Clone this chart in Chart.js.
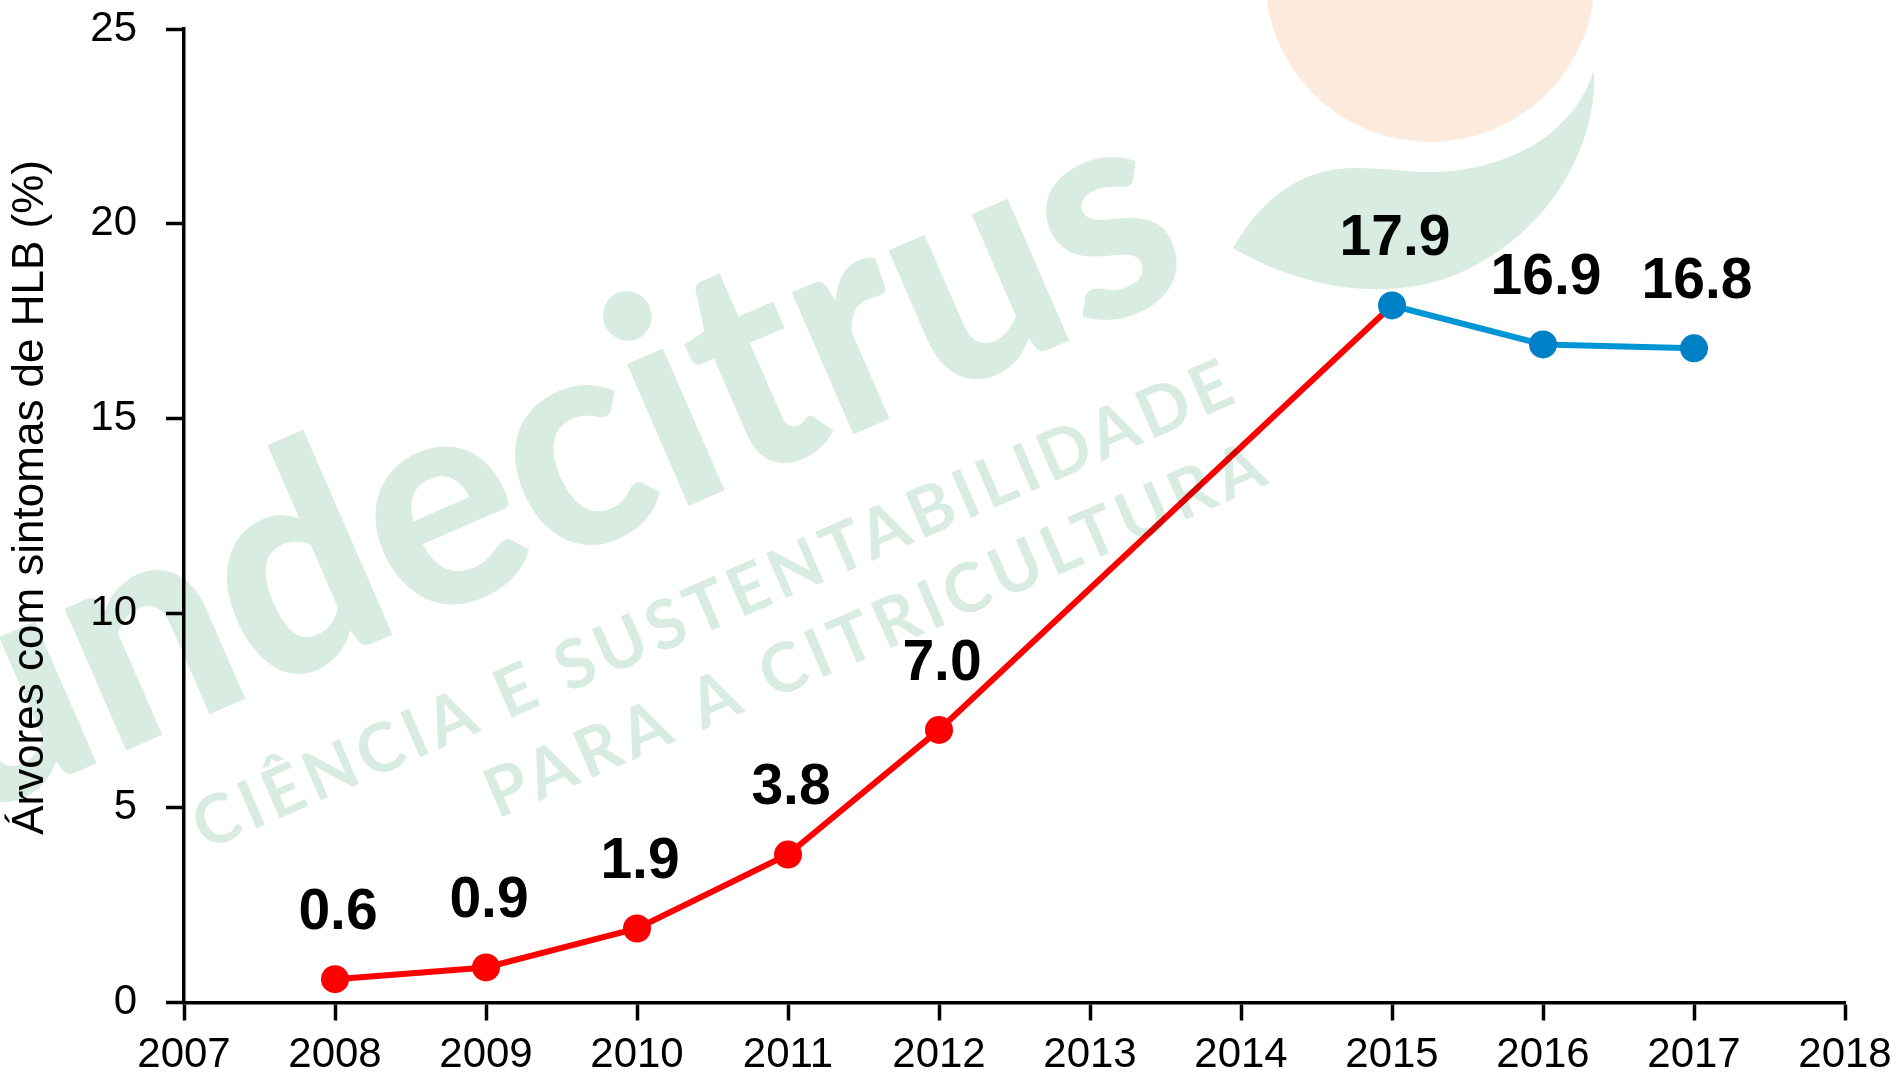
<!DOCTYPE html>
<html><head><meta charset="utf-8">
<script src="https://cdn.jsdelivr.net/npm/chart.js@4.4.1/dist/chart.umd.min.js"></script>
<style>html,body{margin:0;padding:0;background:#fff;overflow:hidden}canvas{display:block}</style>
</head><body>
<canvas id="c" width="1903" height="1088" style="width:1903px;height:1088px"></canvas>
<script>
// ---- data ----
const redYears = [2008, 2009, 2010, 2011, 2012, 2015];
const redValues = [0.6, 0.9, 1.9, 3.8, 7.0, 17.9];
const blueYears = [2015, 2016, 2017];
const blueValues = [17.9, 16.9, 16.8];
const xTickValues = [2007, 2008, 2009, 2010, 2011, 2012, 2013, 2014, 2015, 2016, 2017, 2018];
const yTickValues = [0, 5, 10, 15, 20, 25];
const yTitle = '   Árvores com sintomas de HLB (%)';
const wmWordHead = 'fun';
const wmWordTail = 'decitrus';
const wmLine1 = 'CIÊNCIA E SUSTENTABILIDADE';
const wmLine2 = 'PARA A CITRICULTURA';

const FONT = '"Liberation Sans", Arial, sans-serif';

function fitText(ctx, text, sx0, sy0, angleDeg, length, font) {
  ctx.save();
  ctx.translate(sx0, sy0);
  ctx.rotate(angleDeg * Math.PI / 180);
  ctx.font = font;
  ctx.textBaseline = 'alphabetic';
  ctx.textAlign = 'left';
  const m = ctx.measureText(text);
  const w = m.actualBoundingBoxLeft + m.actualBoundingBoxRight;
  const ls = (length - w) / (text.length - 1);
  if ('letterSpacing' in ctx) ctx.letterSpacing = ls + 'px';
  ctx.fillText(text, m.actualBoundingBoxLeft, 0);
  ctx.restore();
}

const watermark = {
  id: 'watermark',
  afterDraw(chart) {
    const ctx = chart.ctx;
    ctx.save();
    ctx.globalCompositeOperation = 'multiply';
    ctx.fillStyle = '#FCEADC';
    ctx.beginPath(); ctx.arc(1430, -23, 165, 0, Math.PI * 2); ctx.fill();
    ctx.fillStyle = '#D9ECE1';
    ctx.beginPath();
    ctx.moveTo(1233, 248);
    ctx.bezierCurveTo(1262, 198, 1300, 170, 1350, 168);
    ctx.bezierCurveTo(1390, 167, 1420, 176, 1460, 170);
    ctx.bezierCurveTo(1530, 160, 1578, 122, 1594, 70);
    ctx.bezierCurveTo(1598, 150, 1545, 240, 1450, 277);
    ctx.bezierCurveTo(1380, 302, 1300, 287, 1233, 248);
    ctx.closePath(); ctx.fill();
    const ang = -23.5;
    ctx.save();
    ctx.translate(263, 691);
    ctx.rotate(ang * Math.PI / 180);
    ctx.font = '900 300px Lato, "Noto Sans", sans-serif';
    const m = ctx.measureText(wmWordTail);
    const sx = 1015 / (m.actualBoundingBoxLeft + m.actualBoundingBoxRight);
    ctx.scale(sx, 1);
    ctx.textBaseline = 'alphabetic';
    ctx.textAlign = 'left';
    ctx.fillText(wmWordTail, m.actualBoundingBoxLeft, 0);
    ctx.textAlign = 'right';
    ctx.fillText(wmWordHead, m.actualBoundingBoxLeft, 0);
    ctx.restore();
    fitText(ctx, wmLine1, 207, 850, ang, 1122, 'bold 68px Lato, "Noto Sans", sans-serif');
    fitText(ctx, wmLine2, 502, 817, ang, 838, 'bold 68px Lato, "Noto Sans", sans-serif');
    ctx.restore();
  }
};

const valueLabels = {
  id: 'valueLabels',
  afterDatasetsDraw(chart) {
    const ctx = chart.ctx;
    const done = new Set();
    ctx.save();
    ctx.font = 'bold 57px ' + FONT;
    ctx.fillStyle = '#000';
    ctx.textAlign = 'center';
    ctx.textBaseline = 'middle';
    chart.data.datasets.forEach((ds, di) => {
      const meta = chart.getDatasetMeta(di);
      meta.data.forEach((el, i) => {
        const p = ds.data[i];
        if (done.has(p.x)) return;
        done.add(p.x);
        ctx.fillText(p.y.toFixed(1), el.x + 3, el.y - 66);
      });
    });
    ctx.restore();
  }
};

const axisGrid = { drawOnChartArea: false, drawTicks: true, tickLength: 18, tickWidth: 3.5, tickColor: '#000' };
const axisBorder = { display: true, color: '#000', width: 3.5 };

new Chart(document.getElementById('c'), {
  type: 'line',
  data: {
    datasets: [
      {
        data: blueYears.map((x, i) => ({ x, y: blueValues[i] })),
        borderColor: '#0096D6', backgroundColor: '#0080C6',
        pointBackgroundColor: '#0080C6', pointBorderColor: '#0080C6',
        borderWidth: 6, pointRadius: 14, pointBorderWidth: 0, tension: 0, order: 1
      },
      {
        data: redYears.map((x, i) => ({ x, y: redValues[i] })),
        borderColor: '#FF0000', backgroundColor: '#FF0000',
        pointBackgroundColor: '#FF0000', pointBorderColor: '#FF0000',
        borderWidth: 6, pointRadius: redYears.map(x => blueYears.includes(x) ? 0 : 14),
        pointBorderWidth: 0, tension: 0, order: 2
      }
    ]
  },
  options: {
    responsive: false, maintainAspectRatio: false, animation: false, devicePixelRatio: 1,
    layout: { autoPadding: false, padding: { left: 0, right: 58, top: 29, bottom: 0 } },
    plugins: { legend: { display: false }, tooltip: { enabled: false }, title: { display: false } },
    scales: {
      x: {
        type: 'linear', min: 2007, max: 2018,
        afterBuildTicks(s) { s.ticks = xTickValues.map(v => ({ value: v })); },
        afterFit(s) { s.height = 85.5; },
        ticks: { callback: v => String(v), font: { family: FONT, size: 42 }, color: '#000', padding: 10, maxRotation: 0, autoSkip: false },
        grid: axisGrid, border: axisBorder
      },
      y: {
        min: 0, max: 25,
        afterBuildTicks(s) { s.ticks = yTickValues.map(v => ({ value: v })); },
        afterFit(s) { s.width = 184; s.paddingTop = 0; s.paddingBottom = 0; },
        ticks: { font: { family: FONT, size: 42 }, color: '#000', padding: 29 },
        grid: axisGrid, border: axisBorder,
        title: { display: true, text: yTitle, color: '#000', font: { family: FONT, size: 44 }, padding: { top: 4, bottom: 0 } }
      }
    }
  },
  plugins: [valueLabels, watermark]
});
</script>
</body></html>
